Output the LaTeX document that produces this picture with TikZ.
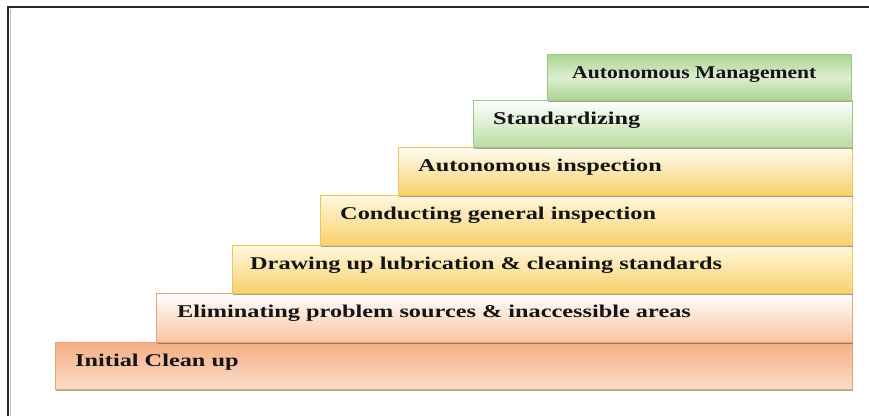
\documentclass[tikz,border=0pt]{standalone}
\usepackage{fontspec}
\usetikzlibrary{shadows}
\newfontfamily\stepfont[FakeStretch=1.35]{Liberation Serif}
\newfontfamily\topstepfont[FakeStretch=1.2]{Liberation Serif}

\definecolor{orline}{HTML}{E2A47C}
\definecolor{yeline}{HTML}{EDC65C}
\definecolor{grline}{HTML}{9DC888}
\definecolor{orangeA}{HTML}{F4AE85}
\definecolor{orangeB}{HTML}{FBDDCA}
\definecolor{orangeC}{HTML}{F8C3A0}
\definecolor{yellowtop}{HTML}{FFF7DE}
\definecolor{yellowbot}{HTML}{F9D16C}
\definecolor{greenA}{HTML}{ABD491}
\definecolor{greenB}{HTML}{B9DCA2}
\definecolor{greenC}{HTML}{DDEED2}

\tikzset{
  stepbar/.style={rectangle, inner sep=0pt, anchor=north west, line width=0.8pt,
    drop shadow={shadow xshift=0.6pt, shadow yshift=-1.8pt, fill=black!60!brown, opacity=0.45}},
  orangebar/.style={stepbar, draw=orline},
  yellowbar/.style={stepbar, draw=yeline, top color=yellowtop, bottom color=yellowbot},
  greenbar/.style={stepbar, draw=grline},
  steptext/.style={anchor=base west, inner sep=0pt, font=\stepfont\bfseries\fontsize{18}{20}\selectfont, text=black!92},
}

\begin{document}
\begin{tikzpicture}[x=1pt,y=-1pt]
  \useasboundingbox (0,0) rectangle (869,416);
  \fill[white] (0,0) rectangle (869,416);

  % frame: top and left edges only
  \draw[black!85, line width=2pt] (8,416) -- (8,7) -- (869,7);
  \draw[black!25, line width=0.8pt] (10.2,416) -- (10.2,8.5);

  % steps, drawn from the bottom up
  \node[orangebar, top color=orangeA, bottom color=orangeB,
        minimum width=797, minimum height=47] (s1) at (55,342) {};
  \node[orangebar, top color=white, bottom color=orangeC,
        minimum width=696, minimum height=49] (s2) at (156,293) {};
  \node[yellowbar, minimum width=620, minimum height=48] (s3) at (232,245) {};
  \node[yellowbar, minimum width=532, minimum height=50] (s4) at (320,195) {};
  \node[yellowbar, top color=yellowtop!40!white, minimum width=454, minimum height=48] (s5) at (398,147) {};
  \node[greenbar, top color=white, bottom color=greenB,
        minimum width=379, minimum height=47] (s6) at (473,100) {};
  \node[greenbar, top color=greenA, bottom color=greenA, middle color=greenC,
        minimum width=304, minimum height=46] (s7) at (547,54) {};

  % labels
  \node[steptext] (t1) at (75,366) {Initial Clean up};
  \node[steptext] (t2) at (177,317) {Eliminating problem sources \& inaccessible areas};
  \node[steptext] (t3) at (250,269) {Drawing up lubrication \& cleaning standards};
  \node[steptext] (t4) at (340,219) {Conducting general inspection};
  \node[steptext] (t5) at (418,171) {Autonomous inspection};
  \node[steptext] (t6) at (493,124) {Standardizing};
  \node[steptext, font=\topstepfont\bfseries\fontsize{18}{20}\selectfont] (t7) at (572,78) {Autonomous Management};
\end{tikzpicture}
\end{document}
